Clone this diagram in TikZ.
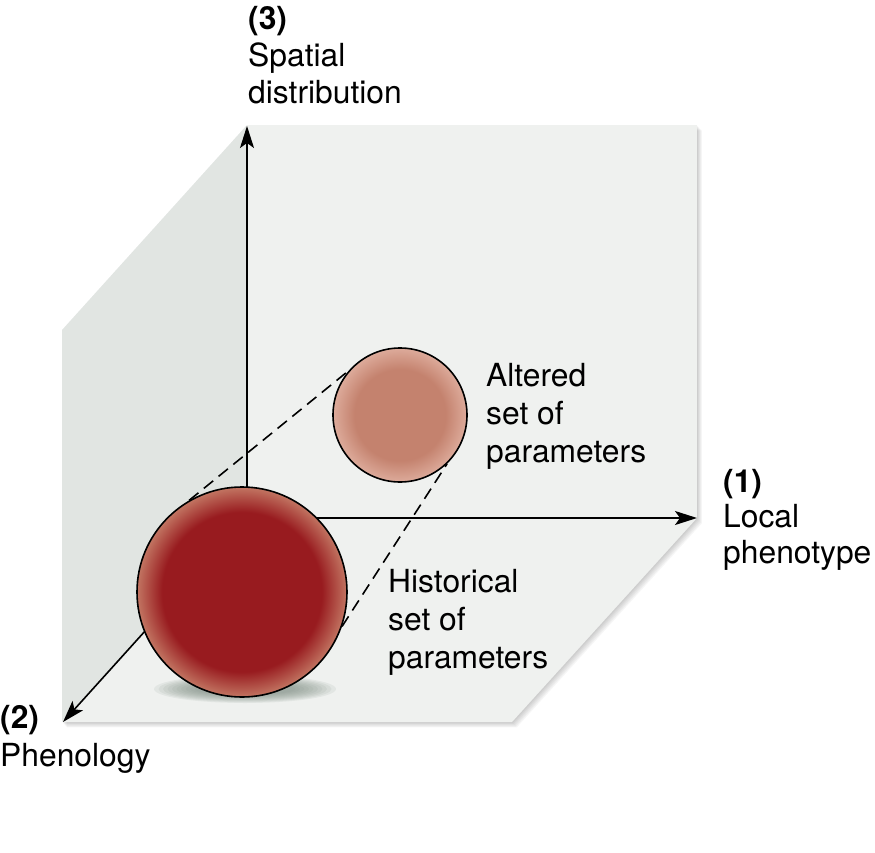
\documentclass[tikz,border=0pt]{standalone}
\usepackage{fontspec}
\setmainfont{TeX Gyre Heros}
\usetikzlibrary{arrows.meta}
\definecolor{wallbg}{HTML}{EFF1EF}
\definecolor{wallside}{HTML}{E1E5E2}
\definecolor{bigc}{HTML}{981B1F}
\definecolor{bigrim}{HTML}{C27562}
\definecolor{smc}{HTML}{C4826E}
\definecolor{smrim}{HTML}{DDAB9B}
\definecolor{shad}{HTML}{7F8E86}
\pgfdeclareradialshading{bigsph}{\pgfpoint{0bp}{0bp}}{color(0bp)=(bigc); color(19bp)=(bigc); color(25bp)=(bigrim); color(50bp)=(bigrim)}
\pgfdeclareradialshading{smsph}{\pgfpoint{0bp}{0bp}}{color(0bp)=(smc); color(17bp)=(smc); color(25bp)=(smrim); color(50bp)=(smrim)}
\begin{document}
\begin{tikzpicture}[x=1pt,y=-1pt,
  lbl/.style={anchor=base west, inner sep=0pt, font=\fontsize{31.8}{37}\selectfont},
  axisln/.style={line width=1.6pt, -{Stealth[length=22pt,width=14pt,inset=5pt]}},
  dashln/.style={line width=1.6pt, dash pattern=on 12pt off 7pt},
  sphere/.style={circle, draw=black, line width=1.6pt, inner sep=0pt}]
\useasboundingbox (0,0) rectangle (875,853);
% soft drop shadow of the planes
\foreach \i in {1,...,6}{
  \fill[black, opacity=0.035, shift={(\i*0.8,\i*0.9)}]
    (247,125) -- (697,125) -- (697,518) -- (512,722) -- (62,722) -- (62,330) -- cycle;
}
% planes
\fill[wallbg] (247,125) -- (697,125) -- (697,518) -- (247,518) -- cycle;
\fill[wallside] (247,125) -- (62,330) -- (62,722) -- (247,518) -- cycle;
\fill[wallbg] (247,518) -- (697,518) -- (512,722) -- (62,722) -- cycle;
% axes
\coordinate (O) at (247,518);
\coordinate (X) at (697,518);
\coordinate (Y) at (247,126);
\coordinate (Z) at (63,722);
\draw[axisln] (O) -- (X);
\draw[axisln] (O) -- (Y);
\draw[axisln] (O) -- (Z);
% soft shadow under big sphere
\foreach \k in {0,...,9}{
  \fill[shad, opacity=0.11] (245,689) ellipse [x radius={91-\k*4.5}, y radius={14-\k*0.9}];
}
% spheres
\node[sphere, minimum size=134pt, shading=smsph] (small) at (400,415) {};
\node[sphere, minimum size=210pt, shading=bigsph] (big) at (242,592) {};
% dashed tangents
\draw[dashln] (big.120) -- (small.139);
\draw[dashln] (big.-19) -- (small.-46);
% labels
\node[lbl] (l3a) at (248,30) {\textbf{(3)}};
\node[lbl] (l3b) at (248,67) {Spatial};
\node[lbl] (l3c) at (248,104) {distribution};
\node[lbl] (l1a) at (723,492) {\textbf{(1)}};
\node[lbl] (l1b) at (723,527) {Local};
\node[lbl] (l1c) at (723,563) {phenotype};
\node[lbl] (l2a) at (0,728) {\textbf{(2)}};
\node[lbl] (l2b) at (0,766) {Phenology};
\node[lbl] (aa) at (486,386) {Altered};
\node[lbl] (ab) at (486,424) {set of};
\node[lbl] (ac) at (486,462) {parameters};
\node[lbl] (ha) at (388,592) {Historical};
\node[lbl] (hb) at (388,630) {set of};
\node[lbl] (hc) at (388,668) {parameters};
\end{tikzpicture}
\end{document}
